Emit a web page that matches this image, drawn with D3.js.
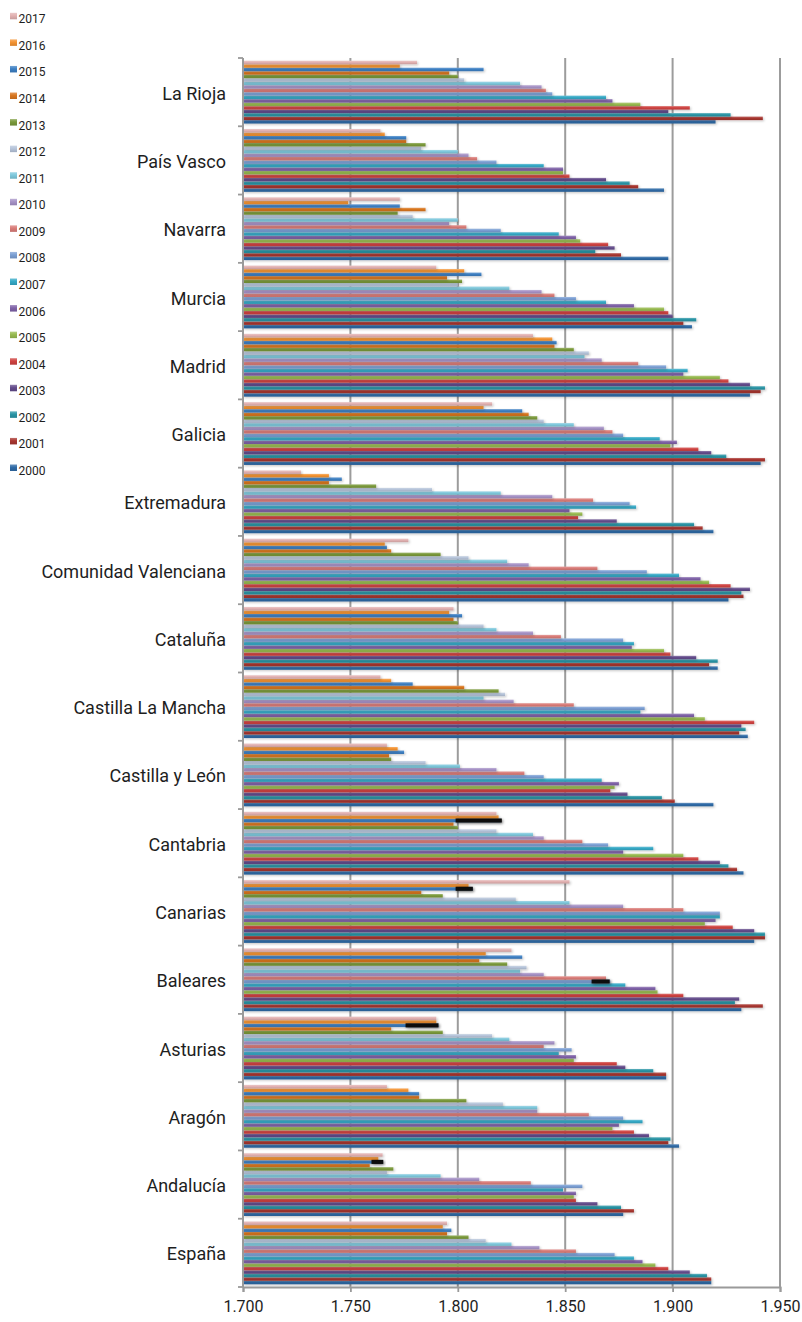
<!DOCTYPE html>
<html>
<head>
<meta charset="utf-8">
<script src="https://cdn.jsdelivr.net/npm/d3@7"></script>
<style>
  html, body { margin: 0; padding: 0; background: #ffffff; }
  svg { display: block; font-family: Roboto, "Noto Sans", sans-serif; }
</style>
</head>
<body>
<svg id="chart" width="802" height="1322"></svg>
<script>
// Years, newest first in the legend and at the top of each cluster
const years = [2000, 2001, 2002, 2003, 2004, 2005, 2006, 2007, 2008,
               2009, 2010, 2011, 2012, 2013, 2014, 2015, 2016, 2017];

const yearColors = {
  2000: "#2f6aa6", 2001: "#a8352f", 2002: "#2994a5", 2003: "#634b8b",
  2004: "#cf4240", 2005: "#97ba4f", 2006: "#7f62a8", 2007: "#35a9c6",
  2008: "#7b9fd4", 2009: "#d97b77", 2010: "#a692c6", 2011: "#7ec8dc",
  2012: "#b6c4da", 2013: "#7a993a", 2014: "#d9761f", 2015: "#3c7fc3",
  2016: "#f49331", 2017: "#e2b1b1"
};

// Values per region, 2000 → 2017
const laRioja    = [1.920, 1.942, 1.927, 1.898, 1.908, 1.885, 1.872, 1.869, 1.844, 1.841, 1.839, 1.829, 1.803, 1.800, 1.796, 1.812, 1.773, 1.781];
const paisVasco  = [1.896, 1.884, 1.880, 1.869, 1.852, 1.849, 1.849, 1.840, 1.818, 1.809, 1.805, 1.800, 1.783, 1.785, 1.776, 1.776, 1.766, 1.764];
const navarra    = [1.898, 1.876, 1.864, 1.873, 1.870, 1.857, 1.855, 1.847, 1.820, 1.804, 1.796, 1.800, 1.779, 1.772, 1.785, 1.773, 1.749, 1.773];
const murcia     = [1.909, 1.905, 1.911, 1.900, 1.898, 1.896, 1.882, 1.869, 1.855, 1.845, 1.839, 1.824, 1.800, 1.802, 1.795, 1.811, 1.803, 1.790];
const madrid     = [1.936, 1.941, 1.943, 1.936, 1.926, 1.922, 1.905, 1.907, 1.897, 1.884, 1.867, 1.859, 1.861, 1.854, 1.845, 1.846, 1.844, 1.835];
const galicia    = [1.941, 1.943, 1.925, 1.918, 1.912, 1.899, 1.902, 1.894, 1.877, 1.872, 1.868, 1.854, 1.840, 1.837, 1.833, 1.830, 1.812, 1.816];
const extremadura= [1.919, 1.914, 1.910, 1.874, 1.856, 1.858, 1.852, 1.883, 1.880, 1.863, 1.844, 1.820, 1.788, 1.762, 1.740, 1.746, 1.740, 1.727];
const comValenciana = [1.926, 1.933, 1.932, 1.936, 1.927, 1.917, 1.913, 1.903, 1.888, 1.865, 1.833, 1.823, 1.805, 1.792, 1.769, 1.767, 1.766, 1.777];
const cataluna   = [1.921, 1.917, 1.921, 1.911, 1.899, 1.896, 1.881, 1.882, 1.877, 1.848, 1.835, 1.818, 1.812, 1.800, 1.798, 1.802, 1.796, 1.798];
const castillaLaMancha = [1.935, 1.931, 1.934, 1.932, 1.938, 1.915, 1.910, 1.885, 1.887, 1.854, 1.826, 1.812, 1.822, 1.819, 1.803, 1.779, 1.769, 1.764];
const castillaLeon = [1.919, 1.901, 1.895, 1.879, 1.871, 1.873, 1.875, 1.867, 1.840, 1.831, 1.818, 1.801, 1.785, 1.769, 1.768, 1.775, 1.772, 1.767];
const cantabria  = [1.933, 1.930, 1.926, 1.922, 1.912, 1.905, 1.877, 1.891, 1.870, 1.858, 1.840, 1.835, 1.818, 1.800, 1.798, 1.820, 1.819, 1.818];
const canarias   = [1.938, 1.943, 1.943, 1.938, 1.928, 1.915, 1.920, 1.922, 1.922, 1.905, 1.877, 1.852, 1.827, 1.793, 1.783, 1.807, 1.805, 1.852];
const baleares   = [1.932, 1.942, 1.929, 1.931, 1.905, 1.893, 1.892, 1.878, 1.871, 1.869, 1.840, 1.829, 1.832, 1.823, 1.810, 1.830, 1.813, 1.825];
const asturias   = [1.897, 1.897, 1.891, 1.878, 1.874, 1.854, 1.855, 1.847, 1.853, 1.840, 1.845, 1.824, 1.816, 1.793, 1.769, 1.791, 1.790, 1.790];
const aragon     = [1.903, 1.898, 1.899, 1.889, 1.882, 1.872, 1.875, 1.886, 1.877, 1.861, 1.837, 1.837, 1.821, 1.804, 1.782, 1.782, 1.777, 1.767];
const andalucia  = [1.877, 1.882, 1.876, 1.865, 1.855, 1.854, 1.855, 1.849, 1.858, 1.834, 1.810, 1.792, 1.767, 1.770, 1.759, 1.765, 1.763, 1.765];
const espana     = [1.918, 1.918, 1.916, 1.908, 1.898, 1.892, 1.886, 1.882, 1.873, 1.855, 1.838, 1.825, 1.813, 1.805, 1.795, 1.797, 1.793, 1.795];

const regions = [
  ["La Rioja", laRioja], ["País Vasco", paisVasco], ["Navarra", navarra],
  ["Murcia", murcia], ["Madrid", madrid], ["Galicia", galicia],
  ["Extremadura", extremadura], ["Comunidad Valenciana", comValenciana],
  ["Cataluña", cataluna], ["Castilla La Mancha", castillaLaMancha],
  ["Castilla y León", castillaLeon], ["Cantabria", cantabria],
  ["Canarias", canarias], ["Baleares", baleares], ["Asturias", asturias],
  ["Aragón", aragon], ["Andalucía", andalucia], ["España", espana]
];

// Black strokes overlaid on a few bars: [region, year, from, to]
const strokes = [
  ["Cantabria", 2015, 1.799, 1.8205],
  ["Canarias", 2015, 1.799, 1.807],
  ["Baleares", 2008, 1.8623, 1.8707],
  ["Asturias", 2015, 1.7757, 1.791],
  ["Andalucía", 2015, 1.7598, 1.7653]
];

const xTicks = [1.700, 1.750, 1.800, 1.850, 1.900, 1.950];

const svg = d3.select("#chart");
const plot = { left: 243, right: 780, top: 58, bottom: 1287 };

const x = d3.scaleLinear().domain([1.7, 1.95]).range([plot.left, plot.right]);
const y0 = d3.scaleBand()
  .domain(regions.map(r => r[0]))
  .range([plot.top, plot.bottom])
  .paddingInner(0.08)
  .paddingOuter(0.04);
const y1 = d3.scaleBand()
  .domain(years.slice().reverse())
  .range([0, y0.bandwidth()]);

const defs = svg.append("defs");
years.forEach(yr => {
  const c = d3.color(yearColors[yr]);
  const g = defs.append("linearGradient")
    .attr("id", "g" + yr).attr("x1", 0).attr("y1", 0).attr("x2", 0).attr("y2", 1);
  g.append("stop").attr("offset", "0%").attr("stop-color", d3.interpolateRgb(c, "#ffffff")(0.28));
  g.append("stop").attr("offset", "45%").attr("stop-color", c.formatHex());
  g.append("stop").attr("offset", "100%").attr("stop-color", c.darker(0.35).formatHex());
});
const shadow = defs.append("filter").attr("id", "shadow")
  .attr("x", "-5%").attr("y", "-50%").attr("width", "110%").attr("height", "250%");
shadow.append("feDropShadow").attr("dx", 1.2).attr("dy", 1.2)
  .attr("stdDeviation", 0.9).attr("flood-color", "#000").attr("flood-opacity", 0.22);
const blackGlow = defs.append("filter").attr("id", "blackGlow")
  .attr("x", "-20%").attr("y", "-150%").attr("width", "140%").attr("height", "400%");
blackGlow.append("feDropShadow").attr("dx", 1).attr("dy", 1)
  .attr("stdDeviation", 1.4).attr("flood-color", "#000").attr("flood-opacity", 0.45);

// Vertical gridlines
svg.append("g").selectAll("line")
  .data(xTicks.slice(1))
  .join("line")
  .attr("x1", d => x(d)).attr("x2", d => x(d))
  .attr("y1", plot.top).attr("y2", plot.bottom)
  .attr("stroke", "#9c9c9c").attr("stroke-width", 2);

// Bars
const groups = svg.append("g").selectAll("g")
  .data(regions)
  .join("g")
  .attr("transform", d => `translate(0,${y0(d[0])})`);

groups.selectAll("rect")
  .data(d => d[1].map((v, i) => ({ year: years[i], value: v })))
  .join("rect")
  .attr("x", x(1.7))
  .attr("y", d => y1(d.year))
  .attr("width", d => x(d.value) - x(1.7))
  .attr("height", y1.bandwidth())
  .attr("fill", d => `url(#g${d.year})`)
  .attr("filter", "url(#shadow)");

// Black strokes
svg.append("g").selectAll("rect")
  .data(strokes)
  .join("rect")
  .attr("x", d => x(d[2]))
  .attr("y", d => y0(d[0]) + y1(d[1]) - 0.3)
  .attr("width", d => x(d[3]) - x(d[2]))
  .attr("height", y1.bandwidth() + 0.6)
  .attr("fill", "#111")
  .attr("filter", "url(#blackGlow)");

// Category axis
const yAxis = svg.append("g");
yAxis.append("line")
  .attr("x1", plot.left).attr("x2", plot.left)
  .attr("y1", plot.top).attr("y2", plot.bottom)
  .attr("stroke", "#9a9a9a").attr("stroke-width", 2);
const boundaries = regions.map(r => y0(r[0]) - y0.step() * y0.paddingInner() / 2);
boundaries.push(plot.bottom);
yAxis.selectAll("line.tick")
  .data(boundaries)
  .join("line").attr("class", "tick")
  .attr("x1", plot.left - 5).attr("x2", plot.left)
  .attr("y1", d => d).attr("y2", d => d)
  .attr("stroke", "#9a9a9a").attr("stroke-width", 1.8);
yAxis.selectAll("text")
  .data(regions)
  .join("text")
  .attr("x", 226)
  .attr("y", d => y0(d[0]) + y0.bandwidth() / 2)
  .attr("dy", "0.42em")
  .attr("text-anchor", "end")
  .attr("font-size", 18)
  .attr("fill", "#1e1e1e")
  .text(d => d[0]);

// Value axis
const xAxis = svg.append("g").attr("transform", `translate(0,${plot.bottom})`)
  .call(d3.axisBottom(x).tickValues(xTicks).tickSize(5).tickPadding(9)
    .tickFormat(d => d3.format(".3f")(d)));
xAxis.select(".domain").attr("stroke", "#9a9a9a").attr("stroke-width", 2);
xAxis.selectAll(".tick line").attr("stroke", "#9a9a9a").attr("stroke-width", 1.8);
xAxis.selectAll(".tick text")
  .attr("font-size", 16).attr("fill", "#1e1e1e")
  .attr("font-family", "Roboto, 'Noto Sans', sans-serif");

// Legend
const legend = svg.append("g").selectAll("g")
  .data(years.slice().reverse())
  .join("g")
  .attr("transform", (d, i) => `translate(0,${23.3 + i * 26.57})`);
legend.append("rect")
  .attr("x", 10).attr("y", -10.5).attr("width", 7).attr("height", 6.5)
  .attr("fill", d => `url(#g${d})`);
legend.append("text")
  .attr("x", 18.5).attr("y", 0)
  .attr("font-size", 12).attr("fill", "#1e1e1e")
  .text(d => d);
</script>
</body>
</html>
